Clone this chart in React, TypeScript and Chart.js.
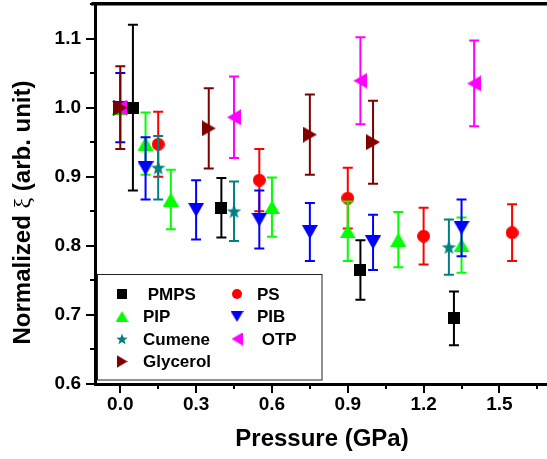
import React, { useEffect, useRef } from 'react';
import { Chart, registerables } from 'chart.js';

Chart.register(...registerables);

// ---------- data ----------
const X_MIN = -0.1;
const X_MAX = 1.7;
const Y_MIN = 0.6;
const Y_MAX = 1.15;
const X_TICKS = [0, 0.15, 0.3, 0.45, 0.6, 0.75, 0.9, 1.05, 1.2, 1.35, 1.5, 1.65];
const X_TICK_LABELS = ['0.0', '', '0.3', '', '0.6', '', '0.9', '', '1.2', '', '1.5', ''];
const Y_TICKS = [0.6, 0.65, 0.7, 0.75, 0.8, 0.85, 0.9, 0.95, 1.0, 1.05, 1.1, 1.15];
const Y_TICK_LABELS = ['0.6', '', '0.7', '', '0.8', '', '0.9', '', '1.0', '', '1.1', ''];

const X_TITLE = 'Pressure (GPa)';
const Y_TITLE_PARTS = ['Normalized ', 'ξ', ' (arb. unit)'];

const PMPS_X = [0.05, 0.4, 0.95, 1.32];
const PMPS_Y = [1.0, 0.855, 0.765, 0.695];
const PMPS_ERR = [0.12, 0.043, 0.043, 0.039];

const PS_X = [0, 0.15, 0.55, 0.9, 1.2, 1.55];
const PS_Y = [1.0, 0.947, 0.895, 0.869, 0.814, 0.819];
const PS_ERR = [0, 0.047, 0.045, 0.044, 0.041, 0.041];

const PIP_X = [0, 0.1, 0.2, 0.6, 0.9, 1.1, 1.35];
const PIP_Y = [1.0, 0.948, 0.867, 0.856, 0.821, 0.809, 0.801];
const PIP_ERR = [0, 0.045, 0.043, 0.043, 0.043, 0.04, 0.04];

const PIB_X = [0, 0.1, 0.3, 0.55, 0.75, 1.0, 1.35];
const PIB_Y = [1.0, 0.912, 0.852, 0.838, 0.82, 0.805, 0.826];
const PIB_ERR = [0.05, 0.045, 0.043, 0.042, 0.042, 0.04, 0.041];

const CUMENE_X = [0, 0.15, 0.45, 1.3];
const CUMENE_Y = [1.0, 0.913, 0.85, 0.798];
const CUMENE_ERR = [0, 0.046, 0.043, 0.04];

const OTP_X = [0, 0.45, 0.95, 1.4];
const OTP_Y = [1.0, 0.986, 1.039, 1.035];
const OTP_ERR = [0, 0.059, 0.063, 0.062];

const GLY_X = [0, 0.35, 0.75, 1.0];
const GLY_Y = [1.0, 0.97, 0.961, 0.95];
const GLY_ERR = [0.06, 0.058, 0.058, 0.06];

const SERIES = [
  { name: 'PMPS', legend: ' PMPS', x: PMPS_X, y: PMPS_Y, err: PMPS_ERR, color: '#000000', shape: 'square' },
  { name: 'PS', legend: 'PS', x: PS_X, y: PS_Y, err: PS_ERR, color: '#ff0000', shape: 'circle' },
  { name: 'PIP', legend: 'PIP', x: PIP_X, y: PIP_Y, err: PIP_ERR, color: '#00ff00', shape: 'up' },
  { name: 'PIB', legend: 'PIB', x: PIB_X, y: PIB_Y, err: PIB_ERR, color: '#0000ff', shape: 'down' },
  { name: 'Cumene', legend: 'Cumene', x: CUMENE_X, y: CUMENE_Y, err: CUMENE_ERR, color: '#008080', shape: 'star' },
  { name: 'OTP', legend: ' OTP', x: OTP_X, y: OTP_Y, err: OTP_ERR, color: '#ff00ff', shape: 'left' },
  { name: 'Glycerol', legend: 'Glycerol', x: GLY_X, y: GLY_Y, err: GLY_ERR, color: '#800000', shape: 'right' },
];

const FONT = '"Liberation Sans", Arial, Helvetica, sans-serif';

// ---------- marker images ----------
const DIMS: Record<string, [number, number]> = {
  square: [12, 12],
  circle: [13, 13],
  up: [16, 14],
  down: [16, 14],
  left: [14, 16],
  right: [14, 16],
  star: [15, 15],
};

function makeMarker(shape: string, color: string, scale: number): HTMLCanvasElement {
  const [bw, bh] = DIMS[shape];
  const w = Math.round(bw * scale);
  const h = Math.round(bh * scale);
  const c = document.createElement('canvas');
  c.width = w;
  c.height = h;
  const g = c.getContext('2d')!;
  g.fillStyle = color;
  g.beginPath();
  switch (shape) {
    case 'square':
      g.rect(0, 0, w, h);
      break;
    case 'circle':
      g.arc(w / 2, h / 2, w / 2, 0, Math.PI * 2);
      break;
    case 'up':
      g.moveTo(w / 2, 0);
      g.lineTo(w, h);
      g.lineTo(0, h);
      break;
    case 'down':
      g.moveTo(0, 0);
      g.lineTo(w, 0);
      g.lineTo(w / 2, h);
      break;
    case 'left':
      g.moveTo(0, h / 2);
      g.lineTo(w, 0);
      g.lineTo(w, h);
      break;
    case 'right':
      g.moveTo(0, 0);
      g.lineTo(w, h / 2);
      g.lineTo(0, h);
      break;
    case 'star': {
      const cx = w / 2;
      const cy = h / 2 + h * 0.04;
      const R = w / 2;
      const r = R * 0.42;
      for (let k = 0; k < 10; k++) {
        const rad = k % 2 === 0 ? R : r;
        const a = -Math.PI / 2 + (k * Math.PI) / 5;
        const px = cx + rad * Math.cos(a);
        const py = cy + rad * Math.sin(a);
        if (k === 0) g.moveTo(px, py);
        else g.lineTo(px, py);
      }
      break;
    }
  }
  g.closePath();
  g.fill();
  return c;
}

// ---------- plugins ----------
const errorBarPlugin = {
  id: 'errorBars',
  beforeDatasetDraw(chart: any, args: any) {
    const s = SERIES[args.index];
    if (!s) return;
    const { ctx } = chart;
    const xs = chart.scales.x;
    const ys = chart.scales.y;
    ctx.save();
    ctx.strokeStyle = s.color;
    ctx.lineWidth = 2;
    s.x.forEach((xv, j) => {
      const e = s.err[j];
      if (!e) return;
      const px = xs.getPixelForValue(xv);
      const pt = ys.getPixelForValue(s.y[j] + e);
      const pb = ys.getPixelForValue(s.y[j] - e);
      ctx.beginPath();
      ctx.moveTo(px, pt);
      ctx.lineTo(px, pb);
      ctx.moveTo(px - 5, pt);
      ctx.lineTo(px + 5, pt);
      ctx.moveTo(px - 5, pb);
      ctx.lineTo(px + 5, pb);
      ctx.stroke();
    });
    ctx.restore();
  },
};

const frameTickPlugin = {
  id: 'frameTicks',
  afterDraw(chart: any) {
    const ctx = chart.ctx;
    const xs = chart.scales.x;
    const ys = chart.scales.y;
    const left = xs.getPixelForValue(X_MIN);
    const top = ys.getPixelForValue(Y_MAX);
    const bottom = ys.getPixelForValue(Y_MIN);
    ctx.save();
    ctx.fillStyle = '#000000';
    // top frame line
    for (let sx = left - 4; sx < 547; sx += 40) {
      ctx.fillRect(sx, top - 1.5, Math.min(40, 547 - sx), 3);
    }

    ctx.strokeStyle = '#000000';
    ctx.lineWidth = 2;
    ctx.beginPath();
    X_TICKS.forEach((v, i) => {
      const px = Math.round(xs.getPixelForValue(v));
      const len = i % 2 === 0 ? 9 : 5;
      ctx.moveTo(px, bottom);
      ctx.lineTo(px, bottom + len);
    });
    Y_TICKS.forEach((v, i) => {
      const py = Math.round(ys.getPixelForValue(v));
      const len = i % 2 === 0 ? 9 : 5;
      ctx.moveTo(left, py);
      ctx.lineTo(left - len, py);
    });
    ctx.stroke();

    // axis titles
    ctx.fillStyle = '#000';
    ctx.font = `bold 24px ${FONT}`;
    ctx.textAlign = 'center';
    ctx.textBaseline = 'alphabetic';
    ctx.fillText(X_TITLE, 322, 446);

    const fonts = [`bold 24px ${FONT}`, `24px "Liberation Serif", "DejaVu Serif", serif`, `bold 24px ${FONT}`];
    const widths = Y_TITLE_PARTS.map((t, k) => {
      ctx.font = fonts[k];
      return ctx.measureText(t).width;
    });
    const total = widths.reduce((a, b) => a + b, 0);
    ctx.translate(30, 212.5);
    ctx.rotate(-Math.PI / 2);
    ctx.textAlign = 'left';
    let pos = -total / 2;
    Y_TITLE_PARTS.forEach((t, k) => {
      ctx.font = fonts[k];
      ctx.fillText(t, pos, 0);
      pos += widths[k];
    });
    ctx.restore();
  },
};

function makeLegendPlugin(legendMarkers: HTMLCanvasElement[]) {
  // grid placement: [series index, column, row]
  const PLACE = [
    [0, 0, 0],
    [1, 1, 0],
    [2, 0, 1],
    [3, 1, 1],
    [4, 0, 2],
    [5, 1, 2],
    [6, 0, 3],
  ];
  const COL_MARK = [122, 237];
  const COL_TEXT = [143, 257];
  const ROW_Y = [294, 316.5, 339, 361.5];
  return {
    id: 'boxLegend',
    afterDatasetsDraw(chart: any) {
      const { ctx } = chart;
      ctx.save();
      ctx.fillStyle = '#fff';
      ctx.fillRect(97.5, 274.5, 224.5, 105.5);
      ctx.strokeStyle = '#222';
      ctx.lineWidth = 1;
      ctx.strokeRect(97.5, 274.5, 224.5, 105.5);
      ctx.font = `bold 17px ${FONT}`;
      ctx.textBaseline = 'middle';
      ctx.textAlign = 'left';
      ctx.fillStyle = '#000';
      PLACE.forEach(([si, col, row]) => {
        const img = legendMarkers[si];
        const cx = COL_MARK[col];
        const cy = ROW_Y[row];
        ctx.drawImage(img, cx - img.width / 2, cy - img.height / 2);
        ctx.fillText(SERIES[si].legend, COL_TEXT[col], cy + 1);
      });
      ctx.restore();
    },
  };
}

export default function App() {
  const canvasRef = useRef<HTMLCanvasElement | null>(null);

  useEffect(() => {
    const canvas = canvasRef.current;
    if (!canvas) return;
    const plotMarkers = SERIES.map((s) => makeMarker(s.shape, s.color, 1));
    const legendMarkers = SERIES.map((s) => makeMarker(s.shape, s.color, 0.8));

    const datasets = SERIES.map((s, i) => ({
      label: s.name,
      data: s.x.map((xv, j) => ({ x: xv, y: s.y[j] })),
      pointStyle: plotMarkers[i],
      pointRadius: 7,
      pointHoverRadius: 7,
      borderColor: s.color,
      backgroundColor: s.color,
      showLine: false,
      order: SERIES.length - 1 - i,
    }));

    const tickFont = { family: FONT, size: 19, weight: 'bold' as const };

    const chart = new Chart(canvas, {
      type: 'scatter',
      data: { datasets },
      options: {
        responsive: false,
        maintainAspectRatio: false,
        devicePixelRatio: 1,
        animation: false,
        events: [],
        layout: { padding: { top: 4, right: 6, left: 0, bottom: 0 }, autoPadding: false },
        plugins: {
          legend: { display: false },
          tooltip: { enabled: false },
          title: { display: false },
        },
        scales: {
          x: {
            type: 'linear',
            min: X_MIN,
            max: X_MAX,
            afterBuildTicks: (scale: any) => {
              scale.ticks = X_TICKS.map((v) => ({ value: v }));
            },
            afterFit: (scale: any) => {
              scale.height = 75;
              scale.paddingLeft = 0;
              scale.paddingRight = 0;
            },
            grid: { display: false, drawTicks: false },
            border: { display: true, color: '#000', width: 3 },
            ticks: {
              autoSkip: false,
              maxRotation: 0,
              minRotation: 0,
              padding: 9,
              color: '#000',
              font: tickFont,
              callback: (_v: any, i: number) => X_TICK_LABELS[i],
            },
          },
          y: {
            type: 'linear',
            min: Y_MIN,
            max: Y_MAX,
            afterBuildTicks: (scale: any) => {
              scale.ticks = Y_TICKS.map((v) => ({ value: v }));
            },
            afterFit: (scale: any) => {
              scale.width = 95;
              scale.paddingTop = 0;
              scale.paddingBottom = 0;
            },
            grid: { display: false, drawTicks: false },
            border: { display: true, color: '#000', width: 3 },
            ticks: {
              autoSkip: false,
              padding: 14,
              color: '#000',
              font: tickFont,
              callback: (_v: any, i: number) => Y_TICK_LABELS[i],
            },
          },
        },
      },
      plugins: [errorBarPlugin, frameTickPlugin, makeLegendPlugin(legendMarkers)],
    } as any);

    return () => chart.destroy();
  }, []);

  return (
    <div
      style={{
        position: 'fixed',
        left: 0,
        top: 0,
        width: 547,
        height: 459,
        overflow: 'hidden',
        background: '#fff',
      }}
    >
      <canvas ref={canvasRef} width={556} height={459} style={{ display: 'block', width: 556, height: 459 }} />
      <div
        style={{
          position: 'absolute',
          left: 92,
          top: 2,
          width: 455,
          height: 3,
          background: '#000',
          zIndex: 10,
        }}
      />
    </div>
  );
}
